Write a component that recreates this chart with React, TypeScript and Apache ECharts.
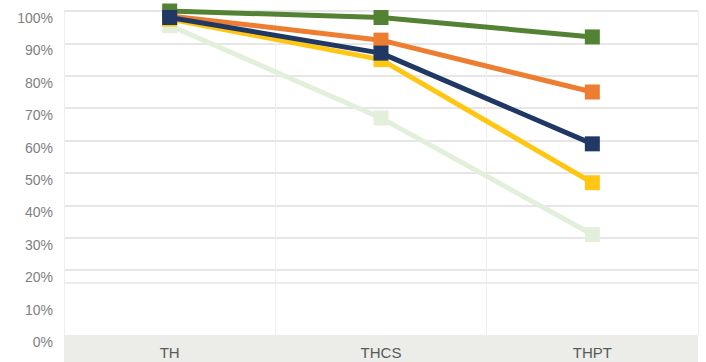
import React, { useEffect, useRef } from "react";
import * as echarts from "echarts";

const categories = ["TH", "THCS", "THPT"];
const yTicks = [0, 10, 20, 30, 40, 50, 60, 70, 80, 90, 100];

const seriesLightGreen = [95.5, 67, 31];
const seriesYellow = [97.5, 85, 47];
const seriesOrange = [98.5, 91, 75];
const seriesGreen = [100, 98, 92];
const seriesNavy = [98, 87, 59];

// extra horizontal rule drawn across the plot
const extraRule = 16;

const seriesDefs = [
  { name: "s5", data: seriesLightGreen, color: "#E2EFDA" },
  { name: "s4", data: seriesYellow, color: "#FFC614" },
  { name: "s2", data: seriesOrange, color: "#ED7D31" },
  { name: "s1", data: seriesGreen, color: "#548235" },
  { name: "s3", data: seriesNavy, color: "#203864" },
];

export default function App() {
  const ref = useRef<HTMLDivElement>(null);

  useEffect(() => {
    if (!ref.current) return;
    const chart = echarts.init(ref.current, undefined, { renderer: "svg" });
    const gridColors = yTicks.map((v) => (v === 0 || v === 10 ? "rgba(0,0,0,0)" : "#DEDEDE"));

    chart.setOption({
      animation: false,
      backgroundColor: "#ffffff",
      grid: { left: 64, right: 8, top: 11, bottom: 27, containLabel: false },
      graphic: [
        {
          type: "rect",
          z: -10,
          silent: true,
          shape: { x: 64, y: 335, width: 634, height: 27 },
          style: { fill: "#ECECE8" },
        },
      ],
      xAxis: {
        type: "category",
        data: categories,
        boundaryGap: true,
        axisLine: { show: false },
        axisTick: { show: false },
        axisLabel: {
          color: "#595959",
          fontSize: 15,
          fontFamily: "'Liberation Sans', Arial, sans-serif",
          margin: 10,
        },
        splitLine: { show: true, lineStyle: { color: "#EEEEEE", width: 1 } },
      },
      yAxis: {
        type: "value",
        min: 0,
        max: 100,
        interval: 10,
        axisLine: { show: false },
        axisTick: { show: false },
        axisLabel: {
          formatter: "{value}%",
          color: "#808080",
          fontSize: 14,
          fontFamily: "'Liberation Sans Narrow', 'Liberation Sans', Arial, sans-serif",
          margin: 11,
          verticalAlign: "top",
        },
        splitLine: { show: true, lineStyle: { color: gridColors, width: 1.5 } },
      },
      series: seriesDefs.map((s, i) => ({
        name: s.name,
        type: "line",
        data: s.data,
        symbol: "rect",
        symbolSize: 15,
        lineStyle: { color: s.color, width: 5 },
        itemStyle: { color: s.color },
        z: 3 + i,
        ...(i === 0
          ? {
              markLine: {
                silent: true,
                symbol: "none",
                label: { show: false },
                lineStyle: { color: "#E6E6E6", width: 1.5, type: "solid" },
                data: [{ yAxis: extraRule }],
                z: 1,
              },
            }
          : {}),
      })),
    });

    return () => chart.dispose();
  }, []);

  return <div ref={ref} style={{ width: 706, height: 362, position: "absolute", left: 0, top: 0 }} />;
}
